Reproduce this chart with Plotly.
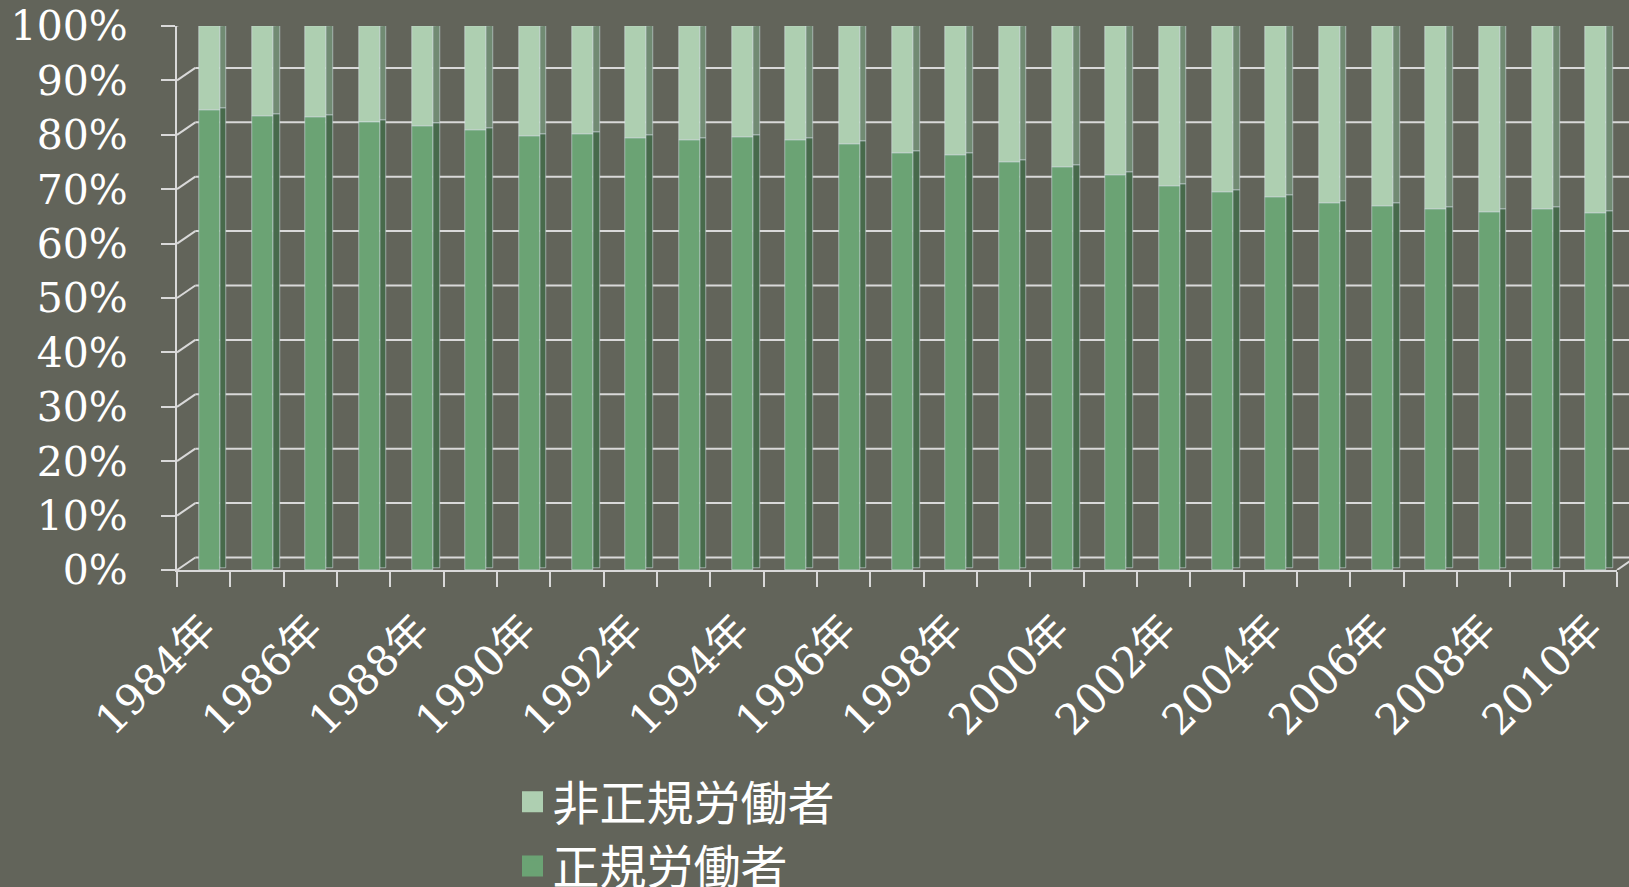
import plotly.graph_objects as go

# Share of regular / non-regular workers, 1984-2010 (%)
years = [1984, 1985, 1986, 1987, 1988, 1989, 1990, 1991, 1992, 1993, 1994, 1995, 1996,
         1997, 1998, 1999, 2000, 2001, 2002, 2003, 2004, 2005, 2006, 2007, 2008, 2009, 2010]
regular = [84.6, 83.5, 83.3, 82.4, 81.7, 80.8, 79.8, 80.2, 79.5, 79.1, 79.6, 79.1, 78.4,
           76.7, 76.3, 75.0, 74.0, 72.7, 70.6, 69.5, 68.6, 67.4, 67.0, 66.4, 65.9, 66.3, 65.6]
non_regular = [15.4, 16.5, 16.7, 17.6, 18.3, 19.2, 20.2, 19.8, 20.5, 20.9, 20.4, 20.9, 21.6,
               23.3, 23.7, 25.0, 26.0, 27.3, 29.4, 30.5, 31.4, 32.6, 33.0, 33.6, 34.1, 33.7, 34.4]
series_names = ["非正規労働者", "正規労働者"]
tick_years = years[::2]
tick_labels = [f"{y}年" for y in tick_years]
pct_ticks = [0, 10, 20, 30, 40, 50, 60, 70, 80, 90, 100]
pct_labels = [f"{v}%" for v in pct_ticks]

BG = "#62645a"
LINE = "#d9d9d9"
FRONT_REG = "#6ba374"
FRONT_NON = "#aecfb1"
SIDE_REG = "#476a4b"
SIDE_NON = "#718b73"
TOP_NON = "#8aab8c"
FONT = "DejaVu Serif, Noto Sans CJK JP, sans-serif"

# bar geometry in x-axis units (one year = one slot)
FRONT_OFF, FRONT_W = -0.094, 0.394
SIDE_OFF, SIDE_W = 0.30, 0.122
DEPTH = 0.8  # apparent depth of the bar tops, in % units

fig = go.Figure()

# side faces (drawn first, behind the front faces)
fig.add_bar(x=years, y=regular, base=DEPTH / 2, offset=SIDE_OFF, width=SIDE_W,
            marker_color=SIDE_REG, showlegend=False, hoverinfo="skip")
fig.add_bar(x=years, y=non_regular, base=[r + DEPTH / 2 for r in regular],
            offset=SIDE_OFF, width=SIDE_W, marker_color=SIDE_NON,
            showlegend=False, hoverinfo="skip")
# top faces
fig.add_bar(x=years, y=[DEPTH] * len(years), base=[r + n for r, n in zip(regular, non_regular)],
            offset=FRONT_OFF + 0.06, width=FRONT_W, marker_color=TOP_NON,
            showlegend=False, hoverinfo="skip")
# front faces
fig.add_bar(x=years, y=regular, base=0, offset=FRONT_OFF, width=FRONT_W,
            marker_color=FRONT_REG, name=series_names[1], showlegend=False)
fig.add_bar(x=years, y=non_regular, base=regular, offset=FRONT_OFF, width=FRONT_W,
            marker_color=FRONT_NON, name=series_names[0], showlegend=False)

# legend entries
for name, col, grp in [(series_names[0], FRONT_NON, "a"), (series_names[1], FRONT_REG, "b")]:
    fig.add_scatter(x=[None], y=[None], mode="markers", name=name, legendgroup=grp,
                    marker=dict(symbol="square", size=16, color=col,
                                line=dict(color=col, width=5)))

# back wall grid, left wall and floor edges
BACK_DX = 0.0127   # paper fraction
BACK_DY = 12.5     # pixels
shapes = []
for v in pct_ticks:
    shapes.append(dict(type="line", layer="below", xref="paper", yref="y",
                       ysizemode="pixel", yanchor=v, x0=BACK_DX, x1=1.02,
                       y0=BACK_DY, y1=BACK_DY, line=dict(color=LINE, width=2)))
    shapes.append(dict(type="line", layer="below", xref="paper", yref="y",
                       ysizemode="pixel", yanchor=v, x0=0, x1=BACK_DX,
                       y0=0, y1=BACK_DY, line=dict(color=LINE, width=2)))
shapes.append(dict(type="line", layer="below", xref="paper", yref="y",
                   ysizemode="pixel", yanchor=0, x0=1, x1=1 + BACK_DX,
                   y0=0, y1=BACK_DY, line=dict(color=LINE, width=2)))

fig.update_layout(
    width=1629, height=887, autosize=False,
    paper_bgcolor=BG, plot_bgcolor=BG,
    barmode="overlay", bargap=0,
    margin=dict(l=177, r=12, t=26, b=317, pad=0, autoexpand=False),
    font=dict(family=FONT, color="white"),
    shapes=shapes,
    xaxis=dict(range=[1983.5, 2010.5], tickmode="array", tickvals=tick_years,
               ticktext=tick_labels, tickangle=-45, ticks="", showgrid=False,
               zeroline=False, showline=True, linecolor=LINE, linewidth=2,
               tickfont=dict(size=42, color="white", family=FONT),
               ticklabelstandoff=16,
               minor=dict(ticks="outside", tick0=1983.5, dtick=1, ticklen=15,
                          tickcolor=LINE, tickwidth=2, showgrid=False)),
    yaxis=dict(range=[0, 100], tickmode="array", tickvals=pct_ticks, ticktext=pct_labels,
               ticks="outside", ticklen=14, tickcolor=LINE, tickwidth=2,
               showgrid=False, zeroline=False, showline=True, linecolor=LINE, linewidth=2,
               tickfont=dict(size=41, color="white", family=FONT),
               ticklabelstandoff=25),
    legend=dict(x=0.233, xanchor="left", y=-0.358, yanchor="top",
                orientation="v", traceorder="normal", tracegroupgap=27,
                bgcolor="rgba(0,0,0,0)", borderwidth=0,
                font=dict(size=47, color="white", family=FONT)),
    showlegend=True,
)

fig.write_html("out.html")
